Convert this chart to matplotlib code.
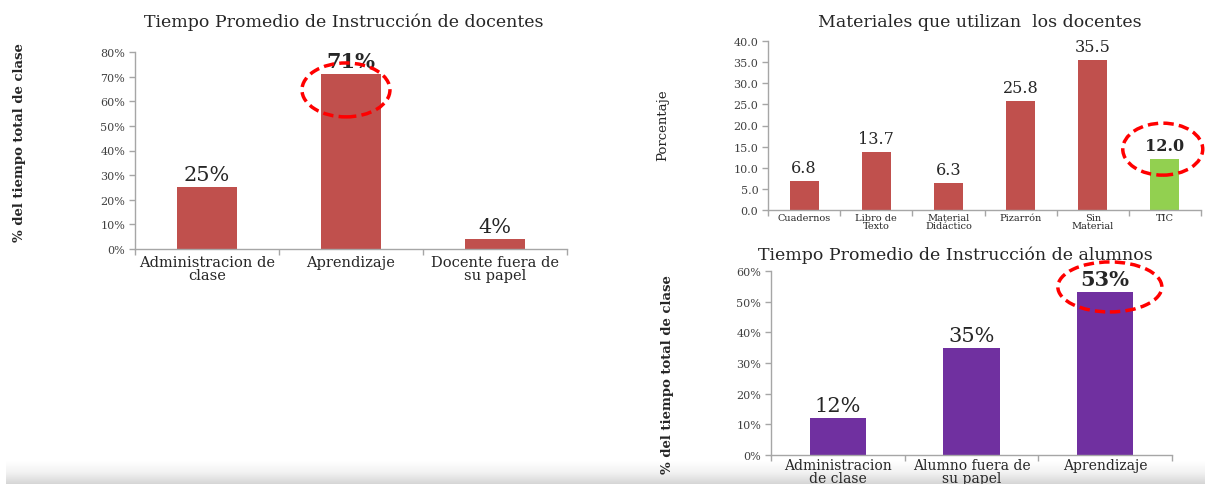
import matplotlib
matplotlib.use("Agg")
import matplotlib.pyplot as plt
import numpy as np
from matplotlib.patches import Ellipse
from matplotlib.ticker import FuncFormatter, FixedLocator

W, H = 1205, 485
FONT = "DejaVu Serif"

# ---------------- data ----------------
doc_categories = ["Administracion de\nclase", "Aprendizaje", "Docente fuera de\nsu papel"]
doc_values = [0.25, 0.71, 0.04]
doc_labels = ["25%", "71%", "4%"]

mat_categories = ["Cuadernos", "Libro de\nTexto", "Material\nDidáctico", "Pizarrón", "Sin\nMaterial", "TIC"]
mat_values = [6.8, 13.7, 6.3, 25.8, 35.5, 12.0]
mat_labels = ["6.8", "13.7", "6.3", "25.8", "35.5", "12.0"]

alu_categories = ["Administracion\nde clase", "Alumno fuera de\nsu papel", "Aprendizaje"]
alu_values = [0.12, 0.35, 0.53]
alu_labels = ["12%", "35%", "53%"]

RED = "#C0504D"
GREEN = "#92D050"
PURPLE = "#7030A0"
SPINE = "#A6A6A6"
TXT = "#404040"

fig = plt.figure(figsize=(W / 100, H / 100), dpi=100)
fig.patch.set_facecolor("white")


def px_axes(x0, y0, x1, y1, **kw):
    return fig.add_axes([x0 / W, 1 - y1 / H, (x1 - x0) / W, (y1 - y0) / H], **kw)


# gray band at bottom
band = px_axes(6, 462, 1205, 485)
grad = np.linspace(0, 1, 50).reshape(-1, 1)
band.imshow(grad, aspect="auto", cmap=matplotlib.colors.LinearSegmentedColormap.from_list(
    "g", ["#ffffff", "#f2f2f2", "#d6d6d6"]), extent=[0, 1, 0, 1])
band.axis("off")
band.set_zorder(0)


def style(ax, n, ylim, yticks, fmt, tick_fs):
    ax.set_facecolor("none")
    ax.set_xlim(-0.5, n - 0.5)
    ax.set_ylim(*ylim)
    for s in ["top", "right"]:
        ax.spines[s].set_visible(False)
    for s in ["left", "bottom"]:
        ax.spines[s].set_color(SPINE)
        ax.spines[s].set_linewidth(1.0)
    ax.yaxis.set_major_locator(FixedLocator(yticks))
    ax.yaxis.set_major_formatter(FuncFormatter(fmt))
    ax.tick_params(axis="y", length=4, width=1, color=SPINE, labelsize=tick_fs,
                   labelcolor=TXT, pad=3)
    ax.set_xticks(range(n))
    ax.set_xticks(np.arange(-0.5, n, 1.0), minor=True)
    ax.tick_params(axis="x", which="major", length=0, pad=4)
    ax.tick_params(axis="x", which="minor", length=4, width=1, color=SPINE)
    for lab in ax.get_yticklabels():
        lab.set_family(FONT)


# ---------------- chart 1 ----------------
ax1 = px_axes(135, 53, 567, 250)
ax1.bar(range(len(doc_values)), doc_values, width=0.41, color=RED, zorder=2)
style(ax1, 3, (0, 0.8), np.arange(0, 0.81, 0.1), lambda v, p: f"{v*100:.0f}%", 8)
ax1.set_xticklabels(doc_categories, fontsize=10.5, family=FONT, color="#262626", linespacing=0.95)
for i, (v, t) in enumerate(zip(doc_values, doc_labels)):
    ax1.text(i, v + 0.012, t, ha="center", va="bottom", fontsize=15, family=FONT,
             color="#262626", fontweight="bold" if i == 1 else "normal")
ax1.set_title("Tiempo Promedio de Instrucción de docentes", fontsize=12.5, family=FONT,
              color="#262626", pad=19, x=0.484)
fig.text(20 / W, 1 - 143 / H, "% del tiempo total de clase", rotation=90, ha="center",
         va="center", fontsize=9.5, family=FONT, fontweight="bold", color="#262626")
ax1.add_patch(Ellipse((0.965, 0.646), 0.611, 0.219, fill=False, ec="#FF0000", lw=2.5,
                      ls=(0, (3, 1.5)), clip_on=False, zorder=5))

# ---------------- chart 2 ----------------
ax2 = px_axes(768, 42, 1201, 211)
mat_colors = [RED] * 5 + [GREEN]
ax2.bar(range(len(mat_values)), mat_values, width=0.4, color=mat_colors, zorder=2)
style(ax2, 6, (0, 40), np.arange(0, 40.1, 5), lambda v, p: f"{v:.1f}", 8)
ax2.set_xticklabels(mat_categories, fontsize=7, family=FONT, color="#262626", linespacing=0.9)
ax2.tick_params(axis="x", which="major", pad=2)
for i, (v, t) in enumerate(zip(mat_values, mat_labels)):
    ax2.text(i, v + 1.2, t, ha="center", va="bottom", fontsize=11.5, family=FONT,
             color="#262626", fontweight="bold" if i == 5 else "normal")
ax2.set_title("Materiales que utilizan  los docentes", fontsize=12.5, family=FONT,
              color="#262626", pad=11, x=0.49)
fig.text(663 / W, 1 - 125 / H, "Porcentaje", rotation=90, ha="center", va="center",
         fontsize=9.5, family=FONT, color="#262626")
ax2.add_patch(Ellipse((4.97, 14.4), 1.108, 12.3, fill=False, ec="#FF0000", lw=2.5,
                      ls=(0, (3, 1.5)), clip_on=False, zorder=5))

# ---------------- chart 3 ----------------
ax3 = px_axes(771, 272, 1172, 456)
ax3.bar(range(len(alu_values)), alu_values, width=0.42, color=PURPLE, zorder=2)
style(ax3, 3, (0, 0.6), np.arange(0, 0.61, 0.1), lambda v, p: f"{v*100:.0f}%", 8)
ax3.set_xticklabels(alu_categories, fontsize=10, family=FONT, color="#262626", linespacing=0.95)
ax3.tick_params(axis="x", which="major", pad=2)
for i, (v, t) in enumerate(zip(alu_values, alu_labels)):
    ax3.text(i, v + 0.01, t, ha="center", va="bottom", fontsize=15, family=FONT,
             color="#262626", fontweight="bold" if i == 2 else "normal")
ax3.set_title("Tiempo Promedio de Instrucción de alumnos", fontsize=12.5, family=FONT,
              color="#262626", pad=9, x=0.46)
fig.text(668 / W, 1 - 375 / H, "% del tiempo total de clase", rotation=90, ha="center",
         va="center", fontsize=9.5, family=FONT, fontweight="bold", color="#262626")
ax3.add_patch(Ellipse((2.035, 0.548), 0.778, 0.163, fill=False, ec="#FF0000", lw=2.5,
                      ls=(0, (3, 1.5)), clip_on=False, zorder=5))

fig.savefig("out.png", dpi=100, facecolor="white")
